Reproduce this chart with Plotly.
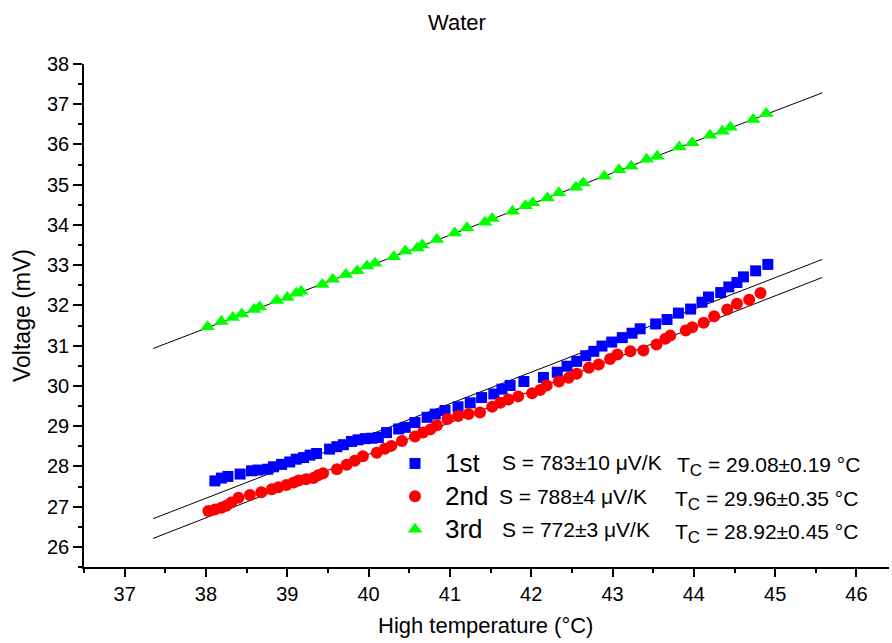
import plotly.graph_objects as go

# ---- measured data: high-side temperature (°C) vs thermovoltage (mV) ----
temp_1st = [38.11, 38.19, 38.27, 38.42, 38.56, 38.64, 38.76, 38.83, 38.93, 39.03,
            39.11, 39.20, 39.28, 39.36, 39.52, 39.61, 39.69, 39.79, 39.87, 39.96,
            40.04, 40.12, 40.22, 40.37, 40.45, 40.57, 40.72, 40.82, 40.94, 41.10,
            41.25, 41.39, 41.54, 41.64, 41.74, 41.91, 42.15, 42.32, 42.44, 42.56,
            42.67, 42.77, 42.87, 42.99, 43.12, 43.24, 43.34, 43.53, 43.67, 43.81,
            43.96, 44.10, 44.18, 44.33, 44.43, 44.53, 44.61, 44.76, 44.91]
volt_1st = [27.64, 27.71, 27.75, 27.81, 27.89, 27.91, 27.93, 27.99, 28.05, 28.11,
            28.18, 28.22, 28.28, 28.32, 28.43, 28.49, 28.54, 28.62, 28.66, 28.69,
            28.70, 28.72, 28.84, 28.93, 28.97, 29.09, 29.22, 29.30, 29.39, 29.48,
            29.58, 29.71, 29.80, 29.92, 30.01, 30.11, 30.21, 30.34, 30.49, 30.61,
            30.75, 30.86, 30.99, 31.09, 31.20, 31.31, 31.42, 31.54, 31.65, 31.81,
            31.91, 32.08, 32.21, 32.32, 32.46, 32.57, 32.71, 32.86, 33.02]

temp_2nd = [38.03, 38.11, 38.19, 38.25, 38.31, 38.40, 38.54, 38.68, 38.81, 38.89,
            38.99, 39.08, 39.14, 39.23, 39.32, 39.38, 39.44, 39.61, 39.73, 39.83,
            39.93, 40.10, 40.20, 40.28, 40.41, 40.57, 40.67, 40.76, 40.84, 40.97,
            41.10, 41.23, 41.37, 41.52, 41.62, 41.72, 41.84, 42.01, 42.11, 42.19,
            42.34, 42.46, 42.56, 42.71, 42.83, 42.97, 43.06, 43.22, 43.38, 43.54,
            43.65, 43.71, 43.90, 43.98, 44.12, 44.25, 44.41, 44.53, 44.68, 44.82]
volt_2nd = [26.89, 26.93, 26.97, 27.02, 27.10, 27.22, 27.29, 27.36, 27.43, 27.48,
            27.54, 27.60, 27.65, 27.68, 27.71, 27.78, 27.83, 27.93, 28.04, 28.14,
            28.25, 28.34, 28.44, 28.51, 28.63, 28.74, 28.84, 28.92, 29.02, 29.18,
            29.25, 29.30, 29.34, 29.48, 29.58, 29.66, 29.74, 29.82, 29.90, 30.01,
            30.11, 30.20, 30.30, 30.45, 30.53, 30.67, 30.78, 30.86, 30.88, 31.03,
            31.17, 31.25, 31.38, 31.46, 31.57, 31.73, 31.90, 32.04, 32.14, 32.31]

temp_3rd = [38.02, 38.19, 38.33, 38.44, 38.59, 38.66, 38.87, 39.00, 39.11, 39.17,
            39.43, 39.56, 39.72, 39.86, 39.98, 40.08, 40.31, 40.45, 40.60, 40.66,
            40.84, 41.06, 41.21, 41.43, 41.52, 41.77, 41.93, 42.02, 42.20, 42.34,
            42.55, 42.64, 42.90, 43.08, 43.23, 43.42, 43.55, 43.82, 43.98, 44.20,
            44.35, 44.45, 44.73, 44.89]
volt_3rd = [31.47, 31.60, 31.70, 31.79, 31.90, 31.96, 32.12, 32.20, 32.30, 32.35,
            32.52, 32.65, 32.77, 32.86, 32.98, 33.05, 33.21, 33.35, 33.43, 33.50,
            33.64, 33.80, 33.93, 34.07, 34.16, 34.34, 34.48, 34.55, 34.67, 34.80,
            34.94, 35.04, 35.21, 35.37, 35.46, 35.63, 35.71, 35.94, 36.04, 36.23,
            36.33, 36.43, 36.62, 36.77]

# ---- linear fit results per run ----
run_labels = ["1st", "2nd", "3rd"]
seebeck_uV = [783, 788, 772]          # slope S (µV/K)
seebeck_err = [10, 4, 3]
tc_value = ["29.08", "29.96", "28.92"]
tc_err = ["0.19", "0.35", "0.45"]
fit_range = [37.35, 45.58]            # temperature span of the fit lines
fit_v_start = [26.70, 26.21, 30.93]   # fitted voltage at fit_range[0]

colors = ["#0000FF", "#FF0000", "#00FF00"]
symbols = ["square", "circle", "triangle-up"]
sizes = [11, 12, 13]
temps = [temp_1st, temp_2nd, temp_3rd]
volts = [volt_1st, volt_2nd, volt_3rd]

FONT = "Liberation Sans, Arial, sans-serif"

fig = go.Figure()

# fit lines (drawn first so markers sit on top)
for i in range(3):
    slope = seebeck_uV[i] / 1000.0
    fy = [fit_v_start[i] + slope * (t - fit_range[0]) for t in fit_range]
    fig.add_trace(go.Scatter(x=fit_range, y=fy, mode="lines",
                             line=dict(color="black", width=1),
                             showlegend=False, hoverinfo="skip"))

for i in range(3):
    fig.add_trace(go.Scatter(
        x=temps[i], y=volts[i], mode="markers",
        name=f"<span style='font-size:26px'>{run_labels[i]}</span>",
        marker=dict(symbol=symbols[i], color=colors[i], size=sizes[i],
                    line=dict(width=0))))

# plot-area geometry in pixels, used to place text
L, R, T, B = 84, 889, 64, 567


def px_x(p):
    return (p - L) / (R - L)


def px_y(p):
    return (B - p) / (B - T)


row_y = [462.0, 496.0, 529.0]
s_x = [500, 497, 500]
t_x = [675, 673, 673]
annotations = []
for i in range(3):
    annotations.append(dict(
        x=px_x(s_x[i]), y=px_y(row_y[i]), xref="paper", yref="paper",
        xanchor="left", yanchor="middle", showarrow=False,
        text=f"S = {seebeck_uV[i]}±{seebeck_err[i]} μV/K",
        font=dict(family=FONT, size=21, color="black")))
    annotations.append(dict(
        x=px_x(t_x[i]), y=px_y(row_y[i]), xref="paper", yref="paper",
        xanchor="left", yanchor="middle", showarrow=False, yshift=-4,
        text=(f"T<sub><span style='font-size:17px'>C</span></sub>"
              f" = {tc_value[i]}±{tc_err[i]} °C"),
        font=dict(family=FONT, size=21, color="black")))

annotations += [
    dict(x=px_x(457), y=px_y(22), xref="paper", yref="paper", showarrow=False,
         xanchor="center", yanchor="middle", text="Water",
         font=dict(family=FONT, size=22, color="black")),
    dict(x=px_x(485), y=px_y(625), xref="paper", yref="paper", showarrow=False,
         xanchor="center", yanchor="middle", text="High temperature (°C)",
         font=dict(family=FONT, size=22, color="black")),
    dict(x=px_x(22), y=px_y(316), xref="paper", yref="paper", showarrow=False,
         xanchor="center", yanchor="middle", textangle=-90, text="Voltage (mV)",
         font=dict(family=FONT, size=23, color="black")),
]

x_range = [36.5, 46.4]
y_range = [25.5, 38]
axis_common = dict(showgrid=False, zeroline=False, showline=True,
                   linecolor="black", linewidth=1.5, tickcolor="black",
                   tickwidth=1.5)

fig.update_layout(
    width=892, height=643,
    margin=dict(l=L, r=892 - R, t=T, b=643 - B),
    paper_bgcolor="white", plot_bgcolor="white",
    font=dict(family=FONT, color="black"),
    showlegend=True,
    legend=dict(x=px_x(385), y=px_y(442), xanchor="left", yanchor="top",
                bgcolor="rgba(0,0,0,0)", borderwidth=0,
                font=dict(family=FONT, size=23, color="black"),
                tracegroupgap=0, itemsizing="trace", itemwidth=50),
    xaxis=dict(range=x_range, tickmode="linear", tick0=37, dtick=1,
               ticks="outside", ticklen=8,
               minor=dict(ticks="outside", ticklen=4, tick0=36.5, dtick=0.5,
                          tickcolor="black", tickwidth=1.5),
               tickfont=dict(family=FONT, size=20), **axis_common),
    yaxis=dict(range=y_range, tickmode="linear", tick0=26, dtick=1,
               ticks="outside", ticklen=9,
               minor=dict(ticks="outside", ticklen=4, tick0=25.5, dtick=0.5,
                          tickcolor="black", tickwidth=1.5),
               tickfont=dict(family=FONT, size=20), **axis_common),
    xaxis2=dict(range=x_range, overlaying="x", side="top", anchor="y",
                tickmode="linear", tick0=37, dtick=1, ticks="inside",
                ticklen=9, showticklabels=False,
                minor=dict(ticks="inside", ticklen=5, tick0=36.5, dtick=0.5,
                           tickcolor="black", tickwidth=1.5),
                **axis_common),
    yaxis2=dict(range=y_range, overlaying="y", side="right", anchor="x",
                tickmode="linear", tick0=26, dtick=1, ticks="inside",
                ticklen=6, showticklabels=False,
                minor=dict(ticks="inside", ticklen=4, tick0=25.5, dtick=0.5,
                           tickcolor="black", tickwidth=1.5),
                **axis_common),
    annotations=annotations,
)

fig.write_html("out.html")
